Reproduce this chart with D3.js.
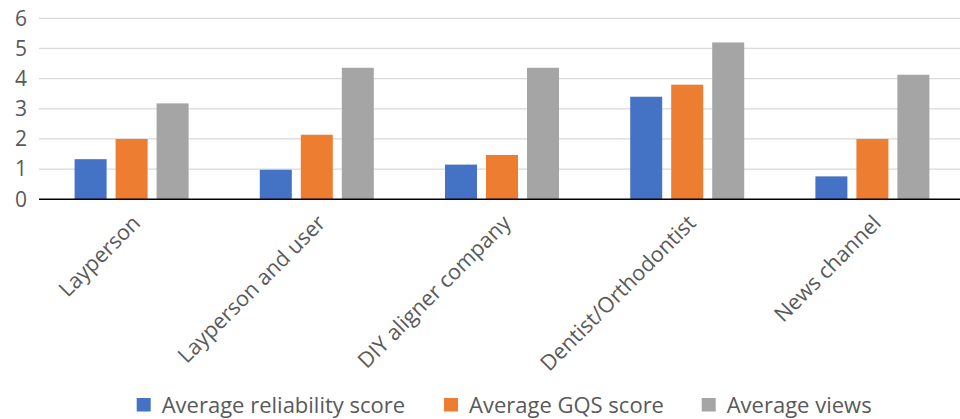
<!DOCTYPE html>
<html>
<head>
<meta charset="utf-8">
<script src="https://cdn.jsdelivr.net/npm/d3@7"></script>
<style>
  html, body { margin: 0; padding: 0; background: #fff; }
  svg { display: block; }
  text { font-family: "Open Sans", "Noto Sans", sans-serif; fill: #595959; }
</style>
</head>
<body>
<svg id="chart" width="960" height="419"></svg>
<script>
// Source groups along the x axis
const categories = ["Layperson", "Layperson and user", "DIY aligner company", "Dentist/Orthodontist", "News channel"];

// Series names and their values per source group
const seriesNames = ["Average reliability score", "Average GQS score", "Average views"];
const reliability = [1.33, 0.98, 1.15, 3.40, 0.76];
const gqs = [2.00, 2.14, 1.47, 3.80, 2.00];
const views = [3.18, 4.36, 4.36, 5.20, 4.13];

const yTicks = [0, 1, 2, 3, 4, 5, 6];
const colors = ["#4472C4", "#ED7D31", "#A5A5A5"];

const seriesValues = [reliability, gqs, views];
const rows = categories.map((c, i) => ({
  category: c,
  values: seriesNames.map((s, j) => ({ series: s, value: seriesValues[j][i] }))
}));

const svg = d3.select("#chart");
const plot = { left: 39, right: 965, top: 18.3, bottom: 199.3 };

const x0 = d3.scaleBand().domain(categories).range([plot.left, plot.right]).paddingInner(0).paddingOuter(0);
const groupWidth = 114;
const groupOffset = (x0.bandwidth() - groupWidth) / 2;
const x1 = d3.scaleBand().domain(seriesNames).range([0, groupWidth]).paddingInner(9 / 41);
const y = d3.scaleLinear().domain([0, 6]).range([plot.bottom, plot.top]);
const color = d3.scaleOrdinal().domain(seriesNames).range(colors);

// Horizontal gridlines
svg.append("g")
  .selectAll("line")
  .data(yTicks.filter(t => t > 0))
  .join("line")
  .attr("x1", plot.left).attr("x2", 960)
  .attr("y1", d => y(d)).attr("y2", d => y(d))
  .attr("stroke", "#d9d9d9").attr("stroke-width", 1.2);

// Y axis labels
const yAxis = d3.axisLeft(y).tickValues(yTicks).tickSize(0).tickPadding(0).tickFormat(d3.format("d"));
svg.append("g")
  .attr("transform", `translate(${plot.left - 12},0)`)
  .call(yAxis)
  .call(g => g.select(".domain").remove())
  .call(g => g.selectAll("text")
    .attr("font-size", 21)
    .attr("font-family", "'Open Sans', sans-serif")
    .attr("fill", "#595959"));

// Bars
svg.append("g")
  .selectAll("g")
  .data(rows)
  .join("g")
  .attr("transform", d => `translate(${x0(d.category) + groupOffset},0)`)
  .selectAll("rect")
  .data(d => d.values)
  .join("rect")
  .attr("x", d => x1(d.series))
  .attr("width", x1.bandwidth())
  .attr("y", d => y(d.value))
  .attr("height", d => y(0) - y(d.value))
  .attr("fill", d => color(d.series));

// Baseline
svg.append("line")
  .attr("x1", plot.left).attr("x2", 960)
  .attr("y1", y(0)).attr("y2", y(0))
  .attr("stroke", "#000").attr("stroke-width", 1.6);

// Rotated category labels
svg.append("g")
  .selectAll("text")
  .data(categories)
  .join("text")
  .attr("transform", d => `translate(${x0(d) + x0.bandwidth() / 2 + 10},${y(0) + 25}) rotate(-45)`)
  .attr("text-anchor", "end")
  .attr("font-size", 21.5)
  .text(d => d);

// Legend
const legendX = [136.7, 444, 701.7];
const legend = svg.append("g")
  .selectAll("g")
  .data(seriesNames)
  .join("g")
  .attr("transform", (d, i) => `translate(${legendX[i]},398)`);
legend.append("rect")
  .attr("width", 14).attr("height", 13.5)
  .attr("fill", d => color(d));
legend.append("text")
  .attr("x", 25).attr("y", 15)
  .attr("font-size", 22)
  .text(d => d);
</script>
</body>
</html>
